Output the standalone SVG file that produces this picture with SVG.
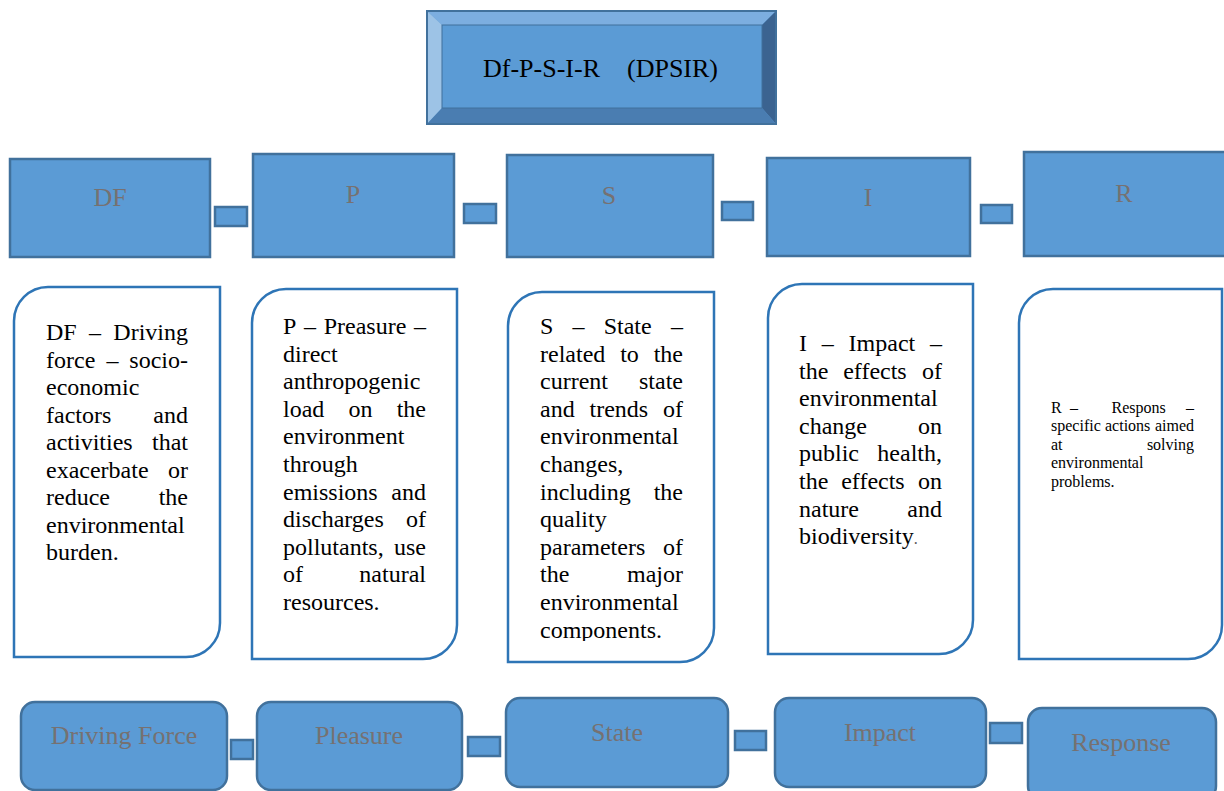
<svg xmlns="http://www.w3.org/2000/svg" width="1224" height="791" viewBox="0 0 1224 791">
<style>
.blk{fill:#5b9bd5;stroke:#41719c;stroke-width:2.5}
.card{fill:#ffffff;stroke:#2e75b6;stroke-width:2.5}
.lbl{font-family:"Liberation Serif","Times New Roman",serif;font-size:26px;fill:#767171;text-anchor:middle}
.t{font-family:"Liberation Serif","Times New Roman",serif;font-size:24px;fill:#000000}
.s{font-family:"Liberation Serif","Times New Roman",serif;font-size:16px;fill:#000000}
.e{text-anchor:end}
</style>
<defs>
<clipPath id="clipS"><rect x="500" y="290" width="220" height="351"/></clipPath>
</defs>
<rect width="1224" height="791" fill="#ffffff"/>

<g id="title">
<rect x="427" y="11" width="349" height="113" fill="#5b9bd5"/>
<polygon points="427,11 776,11 762,25 442,25" fill="#7caee0"/>
<polygon points="427,11 442,25 442,108 427,124" fill="#9dc3e6"/>
<polygon points="776,11 776,124 762,108 762,25" fill="#3b6390"/>
<polygon points="427,124 442,108 762,108 776,124" fill="#4a7db1"/>
<rect x="442" y="25" width="320" height="83" fill="#5b9bd5" stroke="#41719c" stroke-width="1"/>
<rect x="427" y="11" width="349" height="113" fill="none" stroke="#41719c" stroke-width="2"/>
<text x="483" y="77" font-family="Liberation Serif, Times New Roman, serif" font-size="26" fill="#000">Df-P-S-I-R</text>
<text x="627" y="77" font-family="Liberation Serif, Times New Roman, serif" font-size="26" fill="#000">(DPSIR)</text>
</g>

<g id="connectors">
<rect class="blk" x="215" y="207" width="32" height="19"/>
<rect class="blk" x="464" y="204" width="32" height="19"/>
<rect class="blk" x="722" y="202" width="31" height="18"/>
<rect class="blk" x="981" y="205" width="31" height="18"/>
<rect class="blk" x="231" y="740" width="22" height="19"/>
<rect class="blk" x="468" y="737" width="32" height="19"/>
<rect class="blk" x="735" y="731" width="31" height="19"/>
<rect class="blk" x="990" y="723" width="32" height="20"/>
</g>

<g id="node-DF">
<rect class="blk" x="10" y="159" width="200" height="98"/>
<text class="lbl" x="110" y="206">DF</text>
</g>
<g id="node-P">
<rect class="blk" x="253" y="154" width="201" height="103"/>
<text class="lbl" x="353" y="203">P</text>
</g>
<g id="node-S">
<rect class="blk" x="507" y="155" width="206" height="102"/>
<text class="lbl" x="609" y="204">S</text>
</g>
<g id="node-I">
<rect class="blk" x="767" y="158" width="203" height="98"/>
<text class="lbl" x="868" y="206">I</text>
</g>
<g id="node-R">
<rect class="blk" x="1024" y="152" width="212" height="104"/>
<text class="lbl" x="1124" y="202">R</text>
</g>

<g id="card-DF">
<path class="card" d="M48,287 H220 V623 A34,34 0 0 1 186,657 H14 V321 A34,34 0 0 1 48,287 Z"/>
<text class="t" x="46" y="340">DF</text><text class="t" x="89" y="340">–</text><text class="t e" x="188" y="340">Driving</text>
<text class="t" x="46" y="367.5">force</text><text class="t" x="106.5" y="367.5">–</text><text class="t e" x="188" y="367.5">socio-</text>
<text class="t" x="46" y="395">economic</text>
<text class="t" x="46" y="422.5">factors</text><text class="t e" x="188" y="422.5">and</text>
<text class="t" x="46" y="450">activities</text><text class="t e" x="188" y="450">that</text>
<text class="t" x="46" y="477.5">exacerbate</text><text class="t e" x="188" y="477.5">or</text>
<text class="t" x="46" y="505">reduce</text><text class="t e" x="188" y="505">the</text>
<text class="t" x="46" y="532.5">environmental</text>
<text class="t" x="46" y="560">burden.</text>
</g>

<g id="card-P">
<path class="card" d="M286,289 H457 V625 A34,34 0 0 1 423,659 H252 V323 A34,34 0 0 1 286,289 Z"/>
<text class="t" x="283" y="334">P</text><text class="t" x="304" y="334">–</text><text class="t" x="323.7" y="334">Preasure</text><text class="t e" x="426" y="334">–</text>
<text class="t" x="283" y="361.6">direct</text>
<text class="t" x="283" y="389.2">anthropogenic</text>
<text class="t" x="283" y="416.8">load</text><text class="t" x="348.5" y="416.8">on</text><text class="t e" x="426" y="416.8">the</text>
<text class="t" x="283" y="444.4">environment</text>
<text class="t" x="283" y="472">through</text>
<text class="t" x="283" y="499.6">emissions</text><text class="t e" x="426" y="499.6">and</text>
<text class="t" x="283" y="527.2">discharges</text><text class="t e" x="426" y="527.2">of</text>
<text class="t" x="283" y="554.8">pollutants,</text><text class="t e" x="426" y="554.8">use</text>
<text class="t" x="283" y="582.4">of</text><text class="t e" x="426" y="582.4">natural</text>
<text class="t" x="283" y="610">resources.</text>
</g>

<g id="card-S">
<path class="card" d="M542,292 H714 V628 A34,34 0 0 1 680,662 H508 V326 A34,34 0 0 1 542,292 Z"/>
<g clip-path="url(#clipS)">
<text class="t" x="540" y="334">S</text><text class="t" x="572.5" y="334">–</text><text class="t" x="603.7" y="334">State</text><text class="t e" x="683" y="334">–</text>
<text class="t" x="540" y="361.6">related</text><text class="t" x="620.2" y="361.6">to</text><text class="t e" x="683" y="361.6">the</text>
<text class="t" x="540" y="389.2">current</text><text class="t e" x="683" y="389.2">state</text>
<text class="t" x="540" y="416.8">and</text><text class="t" x="589.5" y="416.8">trends</text><text class="t e" x="683" y="416.8">of</text>
<text class="t" x="540" y="444.4">environmental</text>
<text class="t" x="540" y="472">changes,</text>
<text class="t" x="540" y="499.6">including</text><text class="t e" x="683" y="499.6">the</text>
<text class="t" x="540" y="527.2">quality</text>
<text class="t" x="540" y="554.8">parameters</text><text class="t e" x="683" y="554.8">of</text>
<text class="t" x="540" y="582.4">the</text><text class="t e" x="683" y="582.4">major</text>
<text class="t" x="540" y="610">environmental</text>
<text class="t" x="540" y="637.6">components.</text>
</g>
</g>

<g id="card-I">
<path class="card" d="M802,284 H973 V620 A34,34 0 0 1 939,654 H768 V318 A34,34 0 0 1 802,284 Z"/>
<text class="t" x="799" y="351">I</text><text class="t" x="821.8" y="351">–</text><text class="t" x="848.6" y="351">Impact</text><text class="t e" x="942" y="351">–</text>
<text class="t" x="799" y="378.6">the</text><text class="t" x="843.2" y="378.6">effects</text><text class="t e" x="942" y="378.6">of</text>
<text class="t" x="799" y="406.2">environmental</text>
<text class="t" x="799" y="433.8">change</text><text class="t e" x="942" y="433.8">on</text>
<text class="t" x="799" y="461.4">public</text><text class="t e" x="942" y="461.4">health,</text>
<text class="t" x="799" y="489">the</text><text class="t" x="841.2" y="489">effects</text><text class="t e" x="942" y="489">on</text>
<text class="t" x="799" y="516.6">nature</text><text class="t e" x="942" y="516.6">and</text>
<text class="t" x="799" y="544.2">biodiversity<tspan font-size="16" fill="#595959">.</tspan></text>
</g>

<g id="card-R">
<path class="card" d="M1053,289 H1222 V625 A34,34 0 0 1 1188,659 H1019 V323 A34,34 0 0 1 1053,289 Z"/>
<text class="s" x="1051" y="413">R</text><text class="s" x="1070" y="413">–</text><text class="s" x="1111.5" y="413">Respons</text><text class="s e" x="1194" y="413">–</text>
<text class="s" x="1051" y="431.4">specific</text><text class="s" x="1105" y="431.4">actions</text><text class="s e" x="1194" y="431.4">aimed</text>
<text class="s" x="1051" y="449.8">at</text><text class="s e" x="1194" y="449.8">solving</text>
<text class="s" x="1051" y="468.2">environmental</text>
<text class="s" x="1051" y="486.6">problems.</text>
</g>

<g id="step-driving-force">
<rect class="blk" x="21" y="702" width="206" height="88" rx="14"/>
<text class="lbl" x="124" y="744">Driving Force</text>
</g>
<g id="step-pleasure">
<rect class="blk" x="257" y="702" width="205" height="88" rx="14"/>
<text class="lbl" x="359" y="744">Pleasure</text>
</g>
<g id="step-state">
<rect class="blk" x="506" y="698" width="222" height="89" rx="14"/>
<text class="lbl" x="617" y="741">State</text>
</g>
<g id="step-impact">
<rect class="blk" x="775" y="698" width="211" height="89" rx="14"/>
<text class="lbl" x="880" y="741">Impact</text>
</g>
<g id="step-response">
<rect class="blk" x="1028" y="708" width="188" height="92" rx="14"/>
<text class="lbl" x="1121" y="751">Response</text>
</g>
</svg>
